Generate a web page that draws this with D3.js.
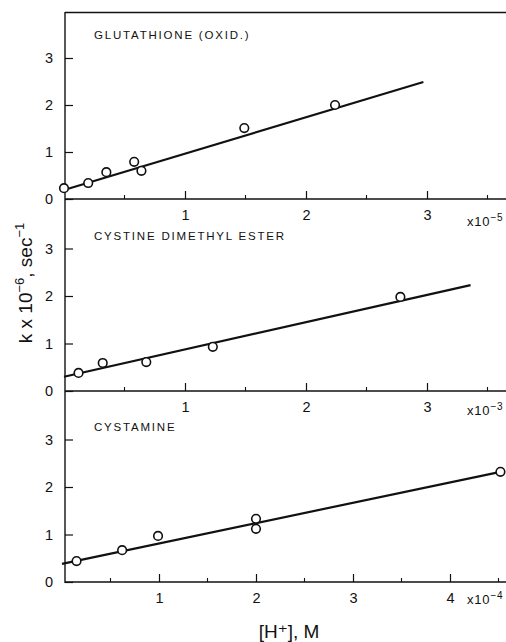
<!DOCTYPE html>
<html>
<head>
<meta charset="utf-8">
<script src="https://cdn.jsdelivr.net/npm/d3@7"></script>
<style>
  html, body { margin: 0; padding: 0; background: #fff; }
  svg { display: block; }
  text { font-family: "Liberation Sans", "DejaVu Sans", sans-serif; fill: #111; }
</style>
</head>
<body>
<svg id="chart" width="506" height="642"></svg>
<script>
// Glutathione (oxidized), [H+] in units of 1e-5 M
const gluX = [0, 0.2, 0.35, 0.58, 0.64, 1.49, 2.24];
const gluY = [0.23, 0.34, 0.57, 0.79, 0.60, 1.51, 2.00];
const gluFitX = [0, 2.97];
const gluFitY = [0.19, 2.49];

// Cystine dimethyl ester, [H+] in units of 1e-3 M
const cdeX = [0.12, 0.32, 0.68, 1.23, 2.78];
const cdeY = [0.38, 0.59, 0.61, 0.93, 1.98];
const cdeFitX = [0, 3.36];
const cdeFitY = [0.30, 2.23];

// Cystamine, [H+] in units of 1e-4 M
const cysX = [0.15, 0.62, 0.99, 2.0, 2.0, 4.52];
const cysY = [0.44, 0.67, 0.97, 1.33, 1.12, 2.32];
const cysFitX = [0, 4.52];
const cysFitY = [0.38, 2.32];

const panelNames = ["GLUTATHIONE (OXID.)", "CYSTINE DIMETHYL ESTER", "CYSTAMINE"];
const xExponents = ["-5", "-3", "-4"];
const yTicks = [0, 1, 2, 3];
const xTicksTop = [1, 2, 3];
const xTicksMid = [1, 2, 3];
const xTicksBot = [1, 2, 3, 4];

const svg = d3.select("#chart");
const axisX0 = 65;
const rightEdge = 506;

const panels = [
  { name: panelNames[0], exp: xExponents[0], xs: gluX, ys: gluY, fx: gluFitX, fy: gluFitY,
    ticks: xTicksTop, x0: 64, perUnit: 121, y0: 199, yUnit: 47, titleY: 39, expY: 226 },
  { name: panelNames[1], exp: xExponents[1], xs: cdeX, ys: cdeY, fx: cdeFitX, fy: cdeFitY,
    ticks: xTicksMid, x0: 64, perUnit: 121, y0: 391, yUnit: 47.5, titleY: 240, expY: 415 },
  { name: panelNames[2], exp: xExponents[2], xs: cysX, ys: cysY, fx: cysFitX, fy: cysFitY,
    ticks: xTicksBot, x0: 62, perUnit: 97, y0: 582, yUnit: 47.5, titleY: 431, expY: 604 }
];

// Left axis spans all three panels; top frame line above the first panel
svg.append("line").attr("x1", axisX0).attr("x2", axisX0).attr("y1", 12).attr("y2", 583)
  .attr("stroke", "#111").attr("stroke-width", 1.4);
svg.append("line").attr("x1", axisX0).attr("x2", rightEdge).attr("y1", 12.5).attr("y2", 12.5)
  .attr("stroke", "#111").attr("stroke-width", 1.4);

panels.forEach(p => {
  const xMax = (rightEdge - p.x0) / p.perUnit;
  const x = d3.scaleLinear().domain([0, xMax]).range([p.x0, rightEdge]);
  const y = d3.scaleLinear().domain([0, 1]).range([p.y0, p.y0 - p.yUnit]);
  const g = svg.append("g");

  // bottom axis: major ticks point inward, labels below
  const xAxis = d3.axisBottom(x).tickValues(p.ticks).tickSize(-8).tickPadding(11)
    .tickFormat(d3.format("d"));
  const ax = g.append("g").attr("transform", `translate(0,${p.y0})`).call(xAxis);
  ax.select(".domain").attr("d", `M${axisX0},0H${rightEdge}`).attr("stroke", "#111").attr("stroke-width", 1.4);
  ax.selectAll(".tick line").attr("stroke", "#111").attr("stroke-width", 1.2);
  ax.selectAll(".tick text").attr("font-size", 14.5).attr("fill", "#111")
    .style("font-family", "'Liberation Sans', sans-serif");

  // minor half-unit ticks
  const minor = d3.range(0.5, xMax, 1);
  g.selectAll(".minor").data(minor).join("line")
    .attr("x1", d => x(d)).attr("x2", d => x(d))
    .attr("y1", p.y0).attr("y2", p.y0 - 4)
    .attr("stroke", "#111").attr("stroke-width", 1.1);

  // left axis ticks and labels
  const yAxis = d3.axisLeft(y).tickValues(yTicks).tickSize(-8).tickPadding(12)
    .tickFormat(d3.format("d"));
  const ay = g.append("g").attr("transform", `translate(${axisX0},0)`).call(yAxis);
  ay.select(".domain").remove();
  ay.selectAll(".tick line").attr("stroke", "#111").attr("stroke-width", 1.2);
  ay.selectAll(".tick text").attr("font-size", 14.5).attr("fill", "#111")
    .style("font-family", "'Liberation Sans', sans-serif");

  // exponent label at the right end of the x axis
  const et = g.append("text").attr("x", 467).attr("y", p.expY).attr("font-size", 13)
    .attr("letter-spacing", 0.8);
  et.append("tspan").text("x10");
  et.append("tspan").attr("dy", -5).attr("font-size", 10).text("\u2212" + p.exp.slice(1));

  // panel title
  g.append("text").attr("x", 94).attr("y", p.titleY)
    .attr("font-size", 11.5).attr("letter-spacing", 1.8).text(p.name);

  // fitted line
  const fit = p.fx.map((v, i) => [v, p.fy[i]]);
  g.append("path").datum(fit)
    .attr("d", d3.line().x(d => x(d[0])).y(d => y(d[1])))
    .attr("fill", "none").attr("stroke", "#111").attr("stroke-width", 2.2);

  // measured points
  const pts = p.xs.map((v, i) => [v, p.ys[i]]);
  g.selectAll(".pt").data(pts).join("circle")
    .attr("cx", d => x(d[0])).attr("cy", d => y(d[1])).attr("r", 4.3)
    .attr("fill", "#fff").attr("stroke", "#111").attr("stroke-width", 1.6);
});

// y axis title
const yt = svg.append("text")
  .attr("transform", "translate(32,283) rotate(-90)")
  .attr("text-anchor", "middle").attr("font-size", 19);
yt.append("tspan").text("k x 10");
yt.append("tspan").attr("dy", -8).attr("font-size", 13).text("\u22126");
yt.append("tspan").attr("dy", 8).text(", sec");
yt.append("tspan").attr("dy", -8).attr("font-size", 13).text("\u22121");

// x axis title
svg.append("text").attr("x", 289).attr("y", 638).attr("text-anchor", "middle")
  .attr("font-size", 19).text("[H\u207A], M");
</script>
</body>
</html>
